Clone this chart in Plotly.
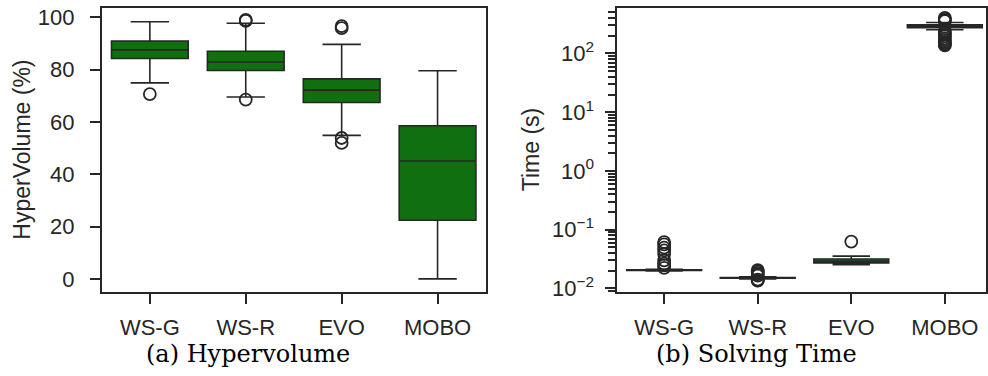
import plotly.graph_objects as go

methods = ["WS-G", "WS-R", "EVO", "MOBO"]

# (a) Hypervolume (%) - box statistics
hv_lower = [75.0, 69.6, 54.9, 0.0]
hv_q1 = [84.3, 79.7, 67.5, 22.4]
hv_median = [87.6, 83.0, 72.2, 45.1]
hv_q3 = [91.0, 87.1, 76.5, 58.6]
hv_upper = [98.4, 97.8, 89.7, 79.6]
hv_out_method = ["WS-G", "WS-R", "WS-R", "WS-R", "EVO", "EVO", "EVO", "EVO"]
hv_out_value = [70.7, 99.1, 98.7, 68.6, 96.7, 95.9, 53.9, 52.0]

# (b) Solving time (s) - box statistics
t_lower = [0.0199, 0.0146, 0.0255, 253.0]
t_q1 = [0.0202, 0.0149, 0.0272, 276.0]
t_median = [0.0205, 0.0151, 0.0290, 294.0]
t_q3 = [0.0208, 0.0153, 0.0318, 309.0]
t_upper = [0.0213, 0.0158, 0.0355, 336.0]
t_out_method = (["WS-G"] * 9 + ["WS-R"] * 8 + ["EVO"] + ["MOBO"] * 14)
t_out_value = [0.0615, 0.0565, 0.0497, 0.0445, 0.0387, 0.0300, 0.0265, 0.0248, 0.0225,
               0.0205, 0.0195, 0.0185, 0.0175, 0.0165, 0.0142, 0.0138, 0.0136,
               0.063,
               403, 385, 370, 355, 240, 225, 210, 195, 180, 168, 158, 150, 143, 137]

y_major = [0.01, 0.1, 1, 10, 100]
y_major_text = ["10<sup>−2</sup>", "10<sup>−1</sup>", "10<sup>0</sup>", "10<sup>1</sup>", "10<sup>2</sup>"]

W, H = 988, 376
FILL = "#107010"
LINE = "#262626"
TICKFONT = dict(family="Liberation Sans, Arial, sans-serif", size=22, color=LINE)
TITLEFONT = dict(family="Liberation Sans, Arial, sans-serif", size=23, color=LINE)
CAPFONT = dict(family="DejaVu Serif, serif", size=24, color="black")

fig = go.Figure()

fig.add_trace(go.Box(
    x=methods, q1=hv_q1, median=hv_median, q3=hv_q3,
    lowerfence=hv_lower, upperfence=hv_upper,
    width=0.8, whiskerwidth=0.5, boxpoints=False,
    fillcolor=FILL, line=dict(color=LINE, width=1.6),
    xaxis="x", yaxis="y", showlegend=False, hoverinfo="skip"))
fig.add_trace(go.Scatter(
    x=hv_out_method, y=hv_out_value, mode="markers",
    marker=dict(symbol="circle-open", size=12, color=LINE, line=dict(width=1.8)),
    xaxis="x", yaxis="y", showlegend=False, hoverinfo="skip"))

fig.add_trace(go.Box(
    x=methods, q1=t_q1, median=t_median, q3=t_q3,
    lowerfence=t_lower, upperfence=t_upper,
    width=0.8, whiskerwidth=0.5, boxpoints=False,
    fillcolor=FILL, line=dict(color=LINE, width=1.6),
    xaxis="x2", yaxis="y2", showlegend=False, hoverinfo="skip"))
fig.add_trace(go.Scatter(
    x=t_out_method, y=t_out_value, mode="markers",
    marker=dict(symbol="circle-open", size=12, color=LINE, line=dict(width=1.8)),
    xaxis="x2", yaxis="y2", showlegend=False, hoverinfo="skip"))

ytop = 1 - 5 / H
ybot = 1 - 299 / H

axis_common = dict(showline=True, linecolor=LINE, linewidth=2, mirror=True,
                   ticks="outside", ticklen=10, tickwidth=2, tickcolor=LINE,
                   showgrid=False, zeroline=False, tickfont=TICKFONT)

fig.update_layout(
    width=W, height=H,
    margin=dict(l=0, r=0, t=0, b=0),
    paper_bgcolor="white", plot_bgcolor="white",
    xaxis=dict(domain=[102 / W, 486 / W], anchor="y", type="category",
               categoryorder="array", categoryarray=methods,
               range=[-0.5, 3.5], ticklabelstandoff=5, **axis_common),
    yaxis=dict(domain=[ybot, ytop], anchor="x", range=[-4.9, 103.7],
               tickvals=[0, 20, 40, 60, 80, 100], ticklabelstandoff=11, **axis_common),
    xaxis2=dict(domain=[618 / W, 987 / W], anchor="y2", type="category",
                categoryorder="array", categoryarray=methods,
                range=[-0.5, 3.44], ticklabelstandoff=5, **axis_common),
    yaxis2=dict(domain=[ybot, ytop], anchor="x2", type="log",
                range=[-2.054, 2.777], tickvals=y_major, ticktext=y_major_text,
                ticklabelstandoff=7,
                minor=dict(ticks="outside", ticklen=7, tickwidth=1.5, tickcolor=LINE,
                           dtick="D1", showgrid=False),
                **axis_common),
    annotations=[
        dict(text="HyperVolume (%)", x=22, y=152, textangle=-90, font=TITLEFONT),
        dict(text="Time (s)", x=531, y=152, textangle=-90, font=TITLEFONT),
        dict(text="(a) Hypervolume", x=248, y=364, font=CAPFONT),
        dict(text="(b) Solving Time", x=757, y=364, font=CAPFONT),
    ],
)

# convert annotation pixel positions to paper coordinates
for a in fig.layout.annotations:
    a.x = a.x / W
    a.y = 1 - a.y / H
    a.xref = "paper"
    a.yref = "paper"
    a.xanchor = "center"
    a.yanchor = "middle"
    a.showarrow = False

fig.write_html("out.html")
